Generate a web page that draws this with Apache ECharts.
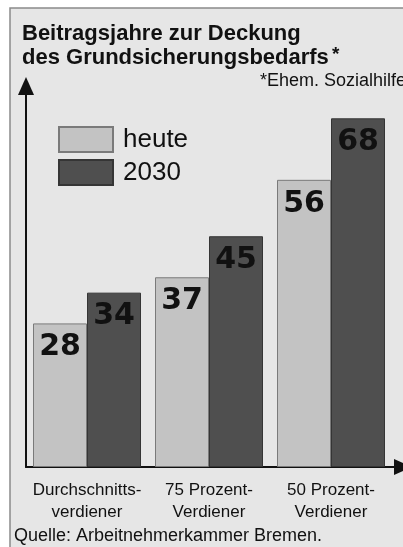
<!DOCTYPE html>
<html>
<head>
<meta charset="utf-8">
<script src="https://cdn.jsdelivr.net/npm/echarts@6/dist/echarts.min.js"></script>
<style>
html,body{margin:0;padding:0;background:#fff;}
#c{width:403px;height:547px;}
</style>
</head>
<body>
<div id="c"></div>
<script>
var categories = ['Durchschnitts-\nverdiener', '75 Prozent-\nVerdiener', '50 Prozent-\nVerdiener'];
var seriesNames = ['heute', '2030'];
var heute = [28, 37, 56];
var y2030 = [34, 45, 68];

var FONT = '"Liberation Sans", Arial, sans-serif';
var chart = echarts.init(document.getElementById('c'), null, {renderer: 'canvas'});

function labelCfg() {
  return {
    show: true, position: 'insideTop', distance: 9,
    fontFamily: '"DejaVu Sans", sans-serif', fontWeight: 'bold', fontSize: 30, color: '#111'
  };
}

var option = {
  backgroundColor: '#ffffff',
  animation: false,
  graphic: [{
    type: 'rect', z: -10, silent: true,
    shape: {x: 10, y: 8, width: 400, height: 545},
    style: {fill: '#e6e6e6', stroke: '#8a8a8a', lineWidth: 1.5}
  }],
  title: [
    {
      text: 'Beitragsjahre zur Deckung\ndes Grundsicherungsbedarfs',
      left: 22, top: 22, padding: 0,
      textStyle: {fontFamily: FONT, fontWeight: 'bold', fontSize: 22, lineHeight: 24, color: '#111'}
    },
    {
      text: '*', left: 332, top: 45, padding: 0,
      textStyle: {fontFamily: FONT, fontWeight: 'bold', fontSize: 19, color: '#111'}
    },
    {
      text: '*Ehem. Sozialhilfe', left: 260, top: 72, padding: 0,
      textStyle: {fontFamily: FONT, fontWeight: 'normal', fontSize: 18, color: '#111'}
    },
    {
      text: 'Quelle: Arbeitnehmerkammer Bremen.', left: 14, top: 527, padding: 0,
      textStyle: {fontFamily: FONT, fontWeight: 'normal', fontSize: 18, color: '#111'}
    }
  ],
  legend: {
    orient: 'vertical', left: 58, top: 126, padding: 0,
    itemWidth: 54, itemHeight: 25, itemGap: 6,
    icon: 'rect',
    data: seriesNames,
    textStyle: {fontFamily: FONT, fontSize: 26, color: '#111', padding: [0, 0, 0, 5]}
  },
  grid: [
    {left: 26, right: 11, top: 86, bottom: 80},
    {left: 26, right: -6, top: 86, bottom: 80}
  ],
  xAxis: [
    {
      type: 'category', gridIndex: 0, data: categories,
      axisLine: {show: false}, axisTick: {show: false},
      axisLabel: {fontFamily: FONT, fontSize: 17, lineHeight: 22, color: '#111', margin: 12, interval: 0}
    },
    {
      type: 'value', gridIndex: 1, min: 0, max: 1,
      axisLine: {show: true, symbol: ['none', 'triangle'], symbolSize: [16, 18],
        lineStyle: {color: '#111', width: 2}},
      axisTick: {show: false}, axisLabel: {show: false}, splitLine: {show: false}
    }
  ],
  yAxis: [
    {
      type: 'value', gridIndex: 0, min: 0, max: 74.3,
      axisLine: {show: true, symbol: ['none', 'triangle'], symbolSize: [16, 18],
        lineStyle: {color: '#111', width: 2}},
      axisTick: {show: false}, axisLabel: {show: false}, splitLine: {show: false}
    },
    {
      type: 'value', gridIndex: 1, show: false, min: 0, max: 1
    }
  ],
  series: [
    {
      name: seriesNames[0], type: 'bar', xAxisIndex: 0, yAxisIndex: 0,
      data: heute, barWidth: 54, barGap: '0%',
      itemStyle: {color: '#c3c3c3', borderColor: '#7a7a7a', borderWidth: 1},
      label: labelCfg()
    },
    {
      name: seriesNames[1], type: 'bar', xAxisIndex: 0, yAxisIndex: 0,
      data: y2030, barWidth: 54, barGap: '0%',
      itemStyle: {color: '#4f4f4f', borderColor: '#353535', borderWidth: 1},
      label: labelCfg()
    }
  ]
};
chart.setOption(option);
</script>
</body>
</html>
